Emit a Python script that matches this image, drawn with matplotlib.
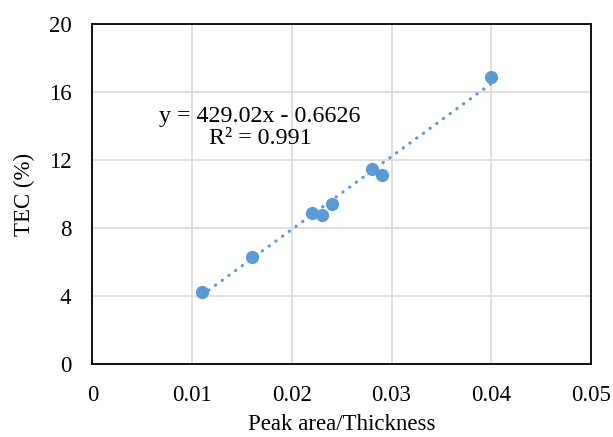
import matplotlib
matplotlib.use('Agg')

import numpy as np
import matplotlib.pyplot as plt

# data
peak_ratio = [0.011, 0.016, 0.022, 0.023, 0.024, 0.028, 0.029, 0.040]
tec = [4.25, 6.3, 8.9, 8.75, 9.4, 11.5, 11.1, 16.9]
slope = 429.02
intercept = -0.6626
r2 = 0.991
xticks = [0, 0.01, 0.02, 0.03, 0.04, 0.05]
xtick_labels = ['0', '0.01', '0.02', '0.03', '0.04', '0.05']
yticks = [0, 4, 8, 12, 16, 20]

BLUE = '#5B9BD5'
FSIZE = 16.5
plt.rcParams['font.family'] = ['Liberation Serif', 'DejaVu Serif']

fig = plt.figure(figsize=(6.13, 4.37), dpi=100)
ax = fig.add_axes([0.1506, 0.167, 0.8135, 0.778])

# linear trendline across the data range
xfit = np.array([min(peak_ratio), max(peak_ratio)])
ax.plot(xfit, slope*xfit + intercept, color=BLUE, lw=2.3,
        linestyle=(0, (0.1, 2.5)), dash_capstyle='round', zorder=3)
ax.plot(peak_ratio, tec, 'o', color=BLUE, markersize=8.5, zorder=4)

ax.text(0.0168, 13.92, 'y = %.2fx - %.4f\nR² = %.3f' % (slope, -intercept, r2),
        ha='center', va='center', multialignment='center', fontsize=17.3,
        linespacing=1.1)

ax.set_xlim(0, 0.05)
ax.set_ylim(0, 20)
ax.set_xticks(xticks)
ax.set_xticklabels(xtick_labels)
ax.set_yticks(yticks)
ax.tick_params(length=0, labelsize=FSIZE, pad=15)
ax.grid(True, color='#D9D9D9', lw=1.2)
ax.set_axisbelow(True)
for s in ax.spines.values():
    s.set_linewidth(1.3)
    s.set_color('black')

ax.set_xlabel('Peak area/Thickness', fontsize=FSIZE, labelpad=6)
ax.set_ylabel('TEC (%)', fontsize=FSIZE, labelpad=10)

fig.savefig('out.png', dpi=100)
